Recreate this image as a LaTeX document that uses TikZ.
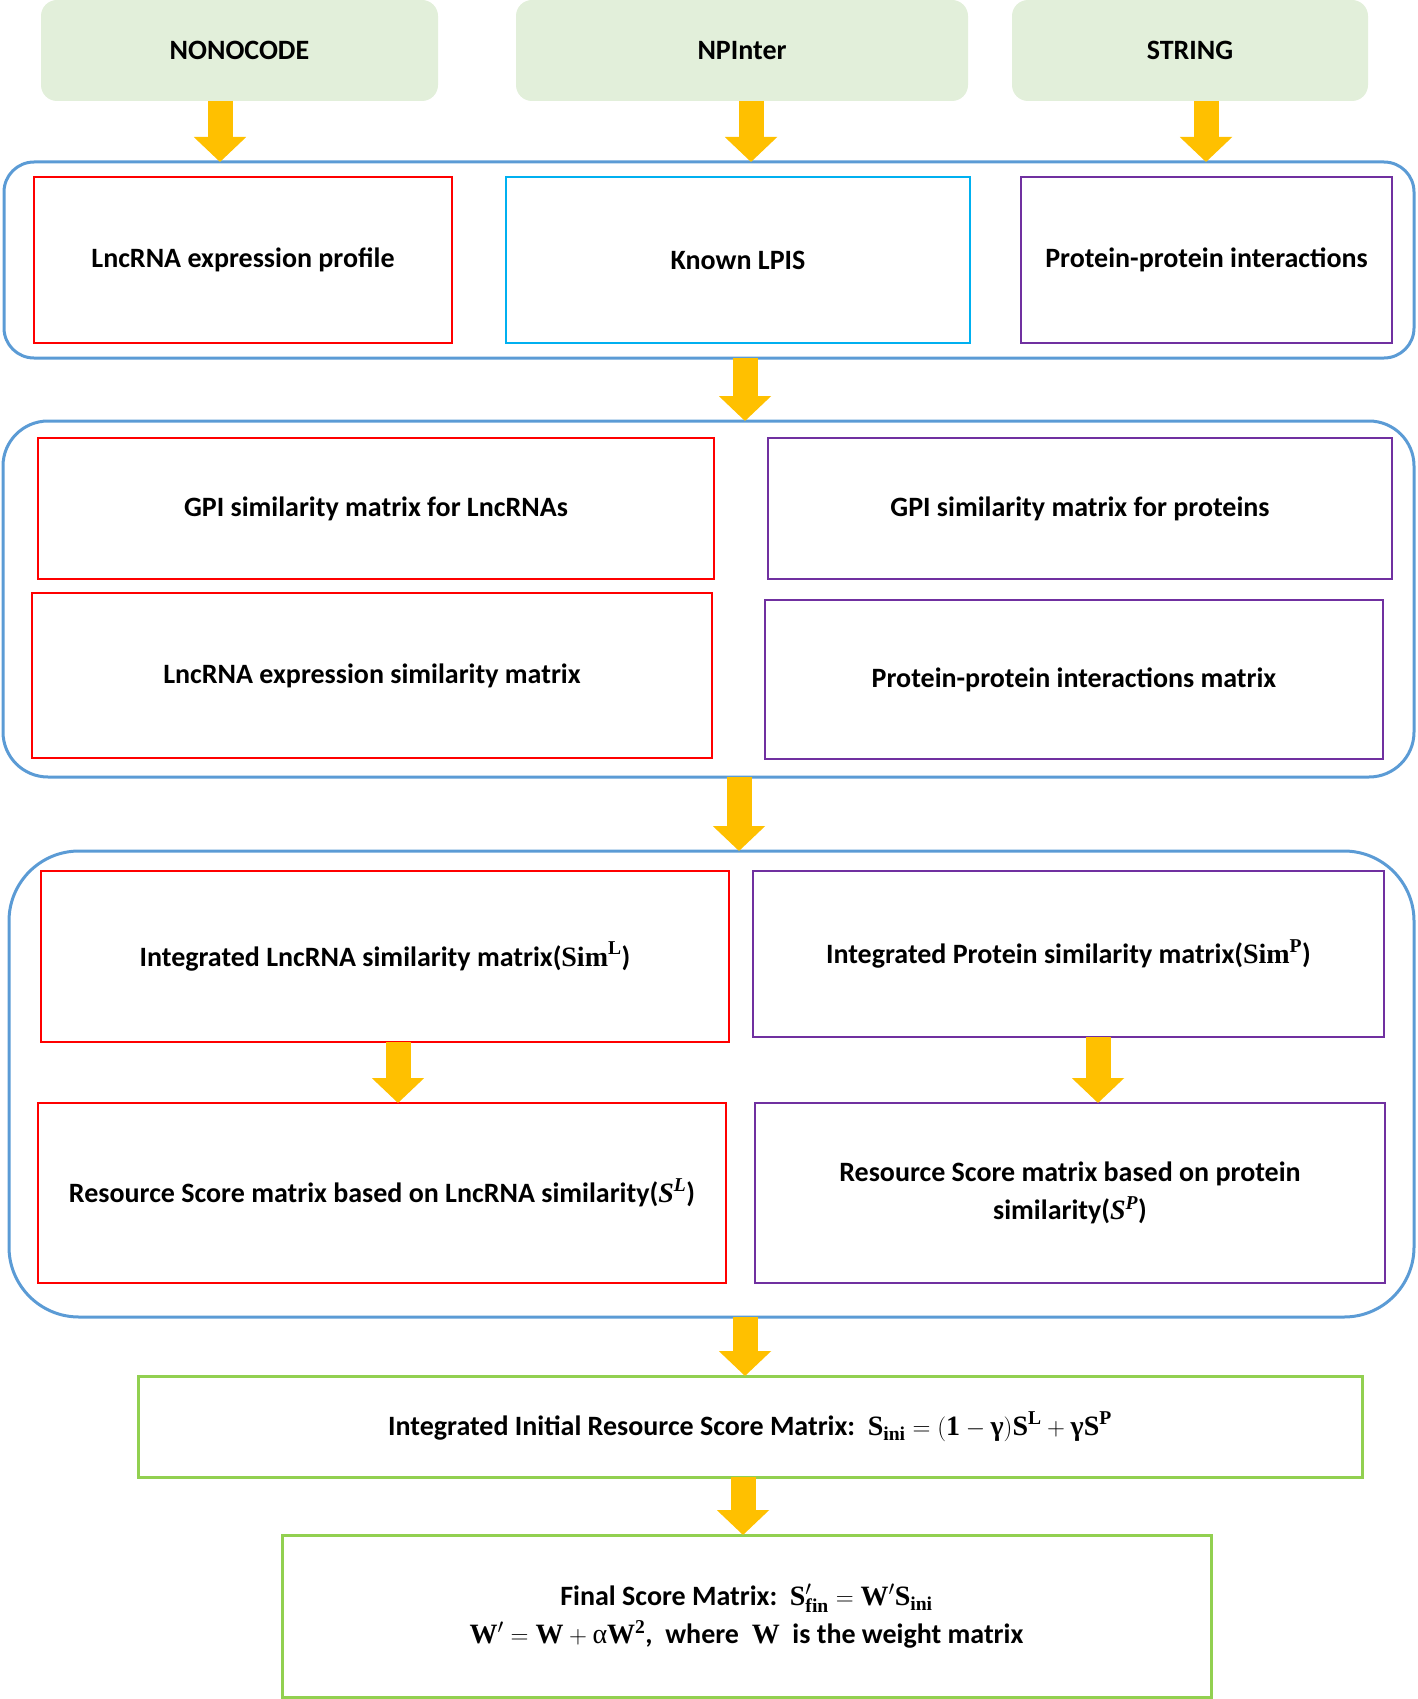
\documentclass[tikz,border=0pt]{standalone}
\usepackage{amsmath}
\usepackage[no-math]{fontspec}
\setmainfont{Carlito}
\newfontfamily\mserif{Liberation Serif}
\newcommand{\mrb}[1]{\text{\mserif\bfseries #1}}
\newcommand{\mrbi}[1]{\text{\mserif\bfseries\itshape #1}}
\newcommand{\mrr}[1]{\text{\mserif\mdseries\upshape #1}}
\usetikzlibrary{arrows.meta,calc}
\definecolor{gfill}{HTML}{E2EFDA}
\definecolor{gold}{HTML}{FFC000}
\definecolor{oblue}{HTML}{5B9BD5}
\definecolor{bred}{HTML}{FF0000}
\definecolor{bcyan}{HTML}{00B0F0}
\definecolor{bpurple}{HTML}{7030A0}
\definecolor{bgreen}{HTML}{92D050}
\begin{document}
\begin{tikzpicture}[x=1pt,y=-1pt,
  every node/.style={inner sep=0pt, outer sep=0pt},
  txt/.style={font=\fontsize{28}{38}\selectfont\bfseries, text=black, align=center},
  src/.style={txt, fill=gfill, rounded corners=16pt},
  outerbox/.style={draw=oblue, line width=3pt},
  redbox/.style={txt, draw=bred, line width=2.5pt},
  cyanbox/.style={txt, draw=bcyan, line width=2.5pt},
  purbox/.style={txt, draw=bpurple, line width=2.5pt},
  grbox/.style={txt, draw=bgreen, line width=3pt},
  arr/.style={draw=gold, line width=25pt, -{Triangle[width=51pt,length=25pt]}}
]
\useasboundingbox (0,0) rectangle (1417,1699);

% sources
\node[src, minimum width=397pt, minimum height=101pt] (nono) at (239.5,50.5) {NONOCODE};
\node[src, minimum width=452pt, minimum height=101pt] (npi) at (742,50.5) {NPInter};
\node[src, minimum width=356pt, minimum height=101pt] (str) at (1190,50.5) {STRING};

% outer containers
\node[outerbox, rounded corners=30pt, minimum width=1410pt, minimum height=196pt] (out1) at (709,260) {};
\node[outerbox, rounded corners=45pt, minimum width=1411pt, minimum height=356pt] (out2) at (708.5,599) {};
\node[outerbox, rounded corners=70pt, minimum width=1405pt, minimum height=466pt] (out3) at (711.5,1084) {};

% row 1
\node[redbox, minimum width=418pt, minimum height=166pt] (lep) at (243,260) {LncRNA expression profile};
\node[cyanbox, minimum width=464pt, minimum height=166pt] (klp) at (738,260) {Known LPIS};
\node[purbox, minimum width=371pt, minimum height=166pt] (ppi) at (1206.5,260) {Protein-protein interactions};

% row 2
\node[redbox, minimum width=676pt, minimum height=141pt] (gpil) at (376,508.5) {GPI similarity matrix for LncRNAs};
\node[purbox, minimum width=624pt, minimum height=141pt] (gpip) at (1080,508.5) {GPI similarity matrix for proteins};
\node[redbox, minimum width=680pt, minimum height=165pt] (les) at (372,675.5) {LncRNA expression similarity matrix};
\node[purbox, minimum width=618pt, minimum height=159pt] (ppim) at (1074,679.5) {Protein-protein interactions matrix};

% row 3
\node[redbox, minimum width=688pt, minimum height=171pt] (ils) at (385,956.5) {Integrated LncRNA similarity matrix($\mrb{Sim}^{\mrb{L}}$)};
\node[purbox, minimum width=631pt, minimum height=166pt] (ips) at (1068.5,954) {Integrated Protein similarity matrix($\mrb{Sim}^{\mrb{P}}$)};
\node[redbox, minimum width=688pt, minimum height=180pt] (rsl) at (382,1193) {Resource Score matrix based on LncRNA similarity($\mrbi{S}^{\mrbi{L}}$)};
\node[purbox, minimum width=630pt, minimum height=180pt] (rsp) at (1070,1193) {Resource Score matrix based on protein\\similarity($\mrbi{S}^{\mrbi{P}}$)};

% bottom
\node[grbox, minimum width=1224pt, minimum height=101pt] (iirs) at (750,1426.5) {Integrated Initial Resource Score Matrix:\ \ $\mrb{S}_{\mrb{ini}} = (\mrb{1}-\mrb{γ})\mrb{S}^{\mrb{L}}+\mrb{γ}\mrb{S}^{\mrb{P}}$};
\node[grbox, minimum width=929pt, minimum height=162pt] (fsm) at (746.5,1616) {Final Score Matrix:\ \ $\mrb{S}'_{\mrb{fin}} = \mrb{W}'\mrb{S}_{\mrb{ini}}$\\$\mrb{W}' = \mrb{W}+\mrr{α}\mrb{W}^{\mrb{2}}$,\ \ where\ \ $\mrb{W}$\ \ is the weight matrix};

% arrow columns
\coordinate (ax1) at (220,0);
\coordinate (ax2) at (751,0);
\coordinate (ax3) at (1206,0);
\coordinate (ax4) at (745,0);
\coordinate (ax5) at (739,0);
\coordinate (ax6) at (398,0);
\coordinate (ax7) at (1098,0);
\coordinate (ax8) at (745,0);
\coordinate (ax9) at (743,0);

\draw[arr] (nono.south -| ax1) -- (out1.north -| ax1);
\draw[arr] (npi.south -| ax2) -- (out1.north -| ax2);
\draw[arr] (str.south -| ax3) -- (out1.north -| ax3);
\draw[arr] (out1.south -| ax4) -- (out2.north -| ax4);
\draw[arr] (out2.south -| ax5) -- (out3.north -| ax5);
\draw[arr] (ils.south -| ax6) -- (rsl.north -| ax6);
\draw[arr] (ips.south -| ax7) -- (rsp.north -| ax7);
\draw[arr] (out3.south -| ax8) -- (iirs.north -| ax8);
\draw[arr] (iirs.south -| ax9) -- (fsm.north -| ax9);
\end{tikzpicture}
\end{document}
